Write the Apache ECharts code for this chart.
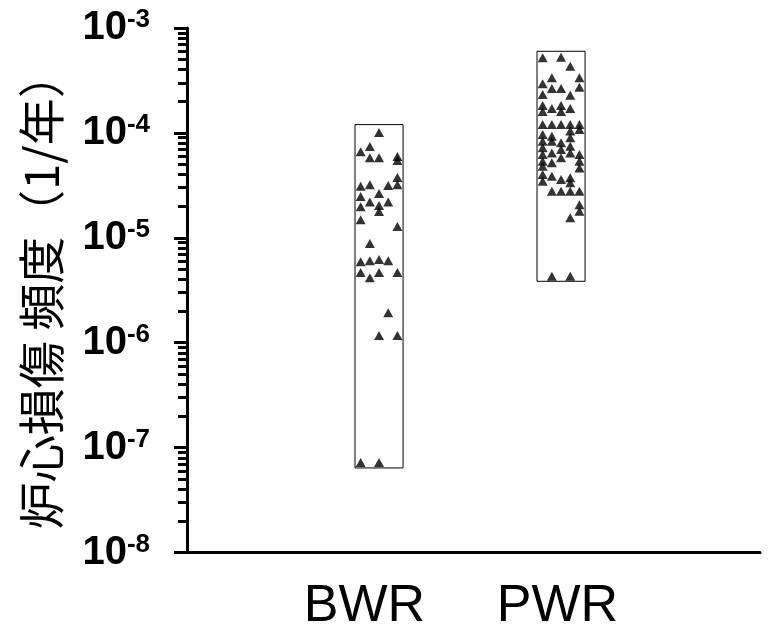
<!DOCTYPE html>
<html lang="ja">

<head>
    <meta charset="UTF-8">
    <title>炉心損傷頻度</title>
    <style>
        html, body { margin: 0; padding: 0; background: #fff; }
    </style>
</head>

<body>
    <div id="main" style="width: 775px; height: 635px"></div>
    <script src="https://cdn.jsdelivr.net/npm/echarts@6/dist/echarts.min.js"></script>
    <script type="text/javascript">
        // categories and their value ranges (box = min/max of each group)
        var categories = ['BWR', 'PWR'];
        var bwrRange = [6.4e-8, 1.2e-4];
        var pwrRange = [3.85e-6, 6.0e-4];

        // points: [jitter column, frequency per year]
        var bwrPoints = [
            [0, 1.01e-4], [-1, 7.4e-5], [-2, 6.6e-5], [-1, 5.8e-5], [0, 5.8e-5],
            [2, 5.95e-5], [2, 5.45e-5], [2, 3.75e-5], [2, 3.2e-5], [-2, 3.1e-5],
            [-1, 3.2e-5], [1, 3.15e-5], [0, 2.65e-5], [-2, 2.47e-5], [-1, 2.2e-5],
            [1, 2.2e-5], [-2, 1.98e-5], [0, 2.03e-5], [0, 1.78e-5], [-2, 1.49e-5],
            [2, 1.28e-5], [-1, 8.8e-6], [-2, 5.9e-6], [-1, 6.05e-6], [0, 6.2e-6],
            [1, 6.05e-6], [-2, 4.66e-6], [-1, 4.17e-6], [0, 4.66e-6], [2, 4.66e-6],
            [1, 1.93e-6], [0, 1.17e-6], [2, 1.17e-6], [-2, 7.2e-8], [0, 7.2e-8]
        ];
        var pwrPoints = [
            [-2, 5.2e-4], [0, 5.27e-4], [1, 4.32e-4], [-1, 3.35e-4], [2, 3.35e-4],
            [-2, 2.94e-4], [2, 2.72e-4], [-1, 2.65e-4], [0, 2.65e-4], [-2, 2.32e-4],
            [1, 2.29e-4], [-2, 1.82e-4], [-2, 1.6e-4], [-1, 1.71e-4], [0, 1.82e-4],
            [0, 1.6e-4], [1, 1.71e-4], [-2, 1.2e-4], [-1, 1.2e-4], [0, 1.2e-4],
            [1, 1.2e-4], [2, 1.2e-4], [1, 1.04e-4], [1, 8.97e-5], [1, 7.46e-5],
            [1, 6.45e-5], [-2, 9.65e-5], [-2, 8.32e-5], [-2, 7.2e-5], [-2, 6.22e-5],
            [-2, 5.37e-5], [-2, 4.81e-5], [-1, 9.29e-5], [-1, 8.32e-5], [-1, 6.45e-5],
            [-1, 5.18e-5], [0, 8.04e-5], [0, 6.94e-5], [0, 5.78e-5], [2, 1.08e-4],
            [2, 6.22e-5], [2, 5.37e-5], [2, 4.64e-5], [-2, 4.01e-5], [-2, 3.46e-5],
            [-1, 3.86e-5], [0, 3.59e-5], [1, 3.73e-5], [1, 3.34e-5], [-1, 2.78e-5],
            [0, 2.78e-5], [1, 2.78e-5], [2, 2.78e-5], [2, 2.07e-5], [2, 1.79e-5],
            [1, 1.55e-5], [-1, 4.29e-6], [1, 4.29e-6]
        ];

        // minor ticks 2..9 in each decade (log10 space)
        var minorTicks = [];
        for (var d = -8; d < -3; d++) {
            for (var k = 2; k <= 9; k++) {
                minorTicks.push(d + Math.log10(k));
            }
        }

        var colStep = 0.0505;   // spacing of jitter columns in x units
        var boxHalf = 0.132;    // half width of the range boxes

        function toXY(points, xc) {
            return points.map(function (p) {
                return [xc + p[0] * colStep, p[1]];
            });
        }

        function boxArea(xc, range) {
            return [[{ coord: [xc - boxHalf, range[0]] }, { coord: [xc + boxHalf, range[1]] }]];
        }

        var font = 'Liberation Sans, Arial, sans-serif';

        var myChart = echarts.init(document.getElementById('main'));
        var option = {
            animation: false,
            backgroundColor: '#fff',
            grid: {
                left: 187,
                right: 15,
                top: 28,
                bottom: 82.5,
                outerBoundsMode: 'none'
            },
            xAxis: {
                type: 'value',
                min: -0.055,
                max: 3.093,
                axisLine: { show: true, onZero: false, lineStyle: { color: '#000', width: 3 } },
                axisTick: { show: false },
                splitLine: { show: false },
                axisLabel: {
                    customValues: [0.92, 1.98],
                    margin: 28,
                    fontSize: 52,
                    lineHeight: 52,
                    fontFamily: font,
                    color: '#000',
                    formatter: function (v) {
                        return categories[Math.round(v) - 1];
                    }
                }
            },
            yAxis: [{
                type: 'log',
                logBase: 10,
                min: 1e-8,
                max: 1e-3,
                name: '炉心損傷 頻度（1/年）',
                nameLocation: 'middle',
                nameRotate: 90,
                nameGap: 122,
                nameTextStyle: {
                    fontSize: 47,
                    fontFamily: 'Noto Sans CJK JP',
                    color: '#000'
                },
                axisLine: { show: true, onZero: false, lineStyle: { color: '#000', width: 3 } },
                axisTick: { show: true, length: 13, lineStyle: { color: '#000', width: 3 } },
                splitLine: { show: false },
                axisLabel: {
                    margin: 37,
                    color: '#000',
                    formatter: function (v) {
                        var e = Math.round(Math.log10(v));
                        return '{b|10}{s|' + e + '}';
                    },
                    rich: {
                        b: { fontSize: 40, lineHeight: 40, fontWeight: 'bold', fontFamily: font, color: '#000', verticalAlign: 'bottom' },
                        s: { fontSize: 26, lineHeight: 26, fontWeight: 'bold', fontFamily: font, color: '#000', verticalAlign: 'bottom', padding: [0, 0, 15, 0] }
                    }
                }
            }, {
                // minor ticks only
                type: 'value',
                min: -8,
                max: -3,
                position: 'left',
                axisLine: { show: false, onZero: false },
                axisLabel: { show: false },
                splitLine: { show: false },
                axisTick: {
                    show: true,
                    customValues: minorTicks,
                    length: 9,
                    lineStyle: { color: '#000', width: 3 }
                }
            }],
            series: [{
                name: 'BWR',
                type: 'scatter',
                symbol: 'triangle',
                symbolSize: [10, 9],
                itemStyle: { color: '#000' },
                data: toXY(bwrPoints, 1),
                markArea: {
                    silent: true,
                    itemStyle: { color: 'rgba(0,0,0,0)', borderColor: '#000', borderWidth: 1 },
                    data: boxArea(1, bwrRange)
                }
            }, {
                name: 'PWR',
                type: 'scatter',
                symbol: 'triangle',
                symbolSize: [10, 9],
                itemStyle: { color: '#000' },
                data: toXY(pwrPoints, 2),
                markArea: {
                    silent: true,
                    itemStyle: { color: 'rgba(0,0,0,0)', borderColor: '#000', borderWidth: 1 },
                    data: boxArea(2, pwrRange)
                }
            }]
        };
        myChart.setOption(option);
    </script>

</body>

</html>
